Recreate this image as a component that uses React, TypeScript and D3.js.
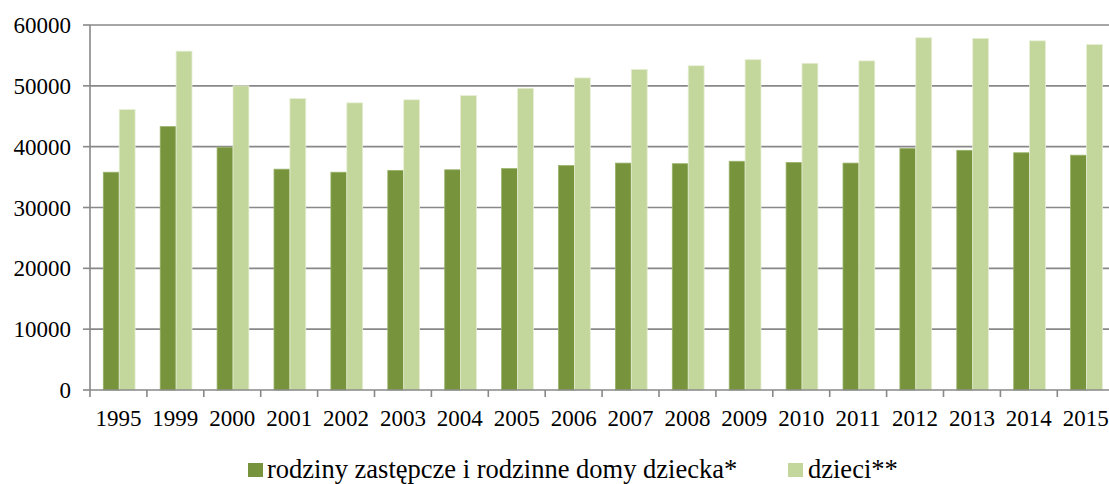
import React from "react";
import * as d3 from "d3";

const categories = ["1995","1999","2000","2001","2002","2003","2004","2005","2006","2007","2008","2009","2010","2011","2012","2013","2014","2015"];
const rodziny = [35800,43300,39900,36300,35800,36100,36200,36400,36900,37300,37200,37600,37400,37300,39700,39400,39000,38600];
const dzieci = [46100,55700,50000,47900,47200,47700,48400,49600,51300,52700,53300,54300,53700,54100,57900,57800,57400,56800];
const seriesNames = ["rodziny zastępcze i rodzinne domy dziecka*", "dzieci**"];
const yTicks = [0,10000,20000,30000,40000,50000,60000];

const W = 1109, H = 484;
const left = 90, bandW = 56.9;
const top = 25, bottom = 390;
const colors = ["#77933C", "#C3D69B"];
const font = "Liberation Serif, Times New Roman, Times, serif";

export default function App() {
  const x = d3.scaleBand<string>().domain(categories).range([left, left + bandW * categories.length]).padding(0);
  const y = d3.scaleLinear().domain([0, 60000]).range([bottom, top]);
  const inner = d3.scaleBand<string>().domain(["a", "b"]).range([13.3, 13.3 + 31.8]);
  const series = [rodziny, dzieci];
  const axisTxt: React.CSSProperties = { fontFamily: font, fontSize: 23 };
  const legTxt: React.CSSProperties = { fontFamily: font, fontSize: 26.5 };
  return (
    <svg width={W} height={H} style={{ position: "absolute", left: 0, top: 0, background: "#fff", fontFamily: font }}>
      {yTicks.map((t) => (
        <g key={t}>
          {t > 0 && <line x1={left} x2={W + 10} y1={y(t)} y2={y(t)} stroke="#888" strokeWidth={1.6} />}
          <line x1={left - 7} x2={left} y1={y(t)} y2={y(t)} stroke="#888" strokeWidth={1.6} />
          <text x={71} y={y(t) + 8} textAnchor="end" style={axisTxt} fill="#000">{t}</text>
        </g>
      ))}
      {series.map((vals, si) =>
        vals.map((v, i) => {
          const bx = (x(categories[i]) as number) + (inner(si === 0 ? "a" : "b") as number);
          return (
            <rect key={si + "-" + i} x={bx} y={y(v)} width={inner.bandwidth()} height={bottom - y(v)}
              fill={colors[si]} stroke={si === 0 ? "#9BB36A" : "#E6EED5"} strokeWidth={0.8} />
          );
        })
      )}
      <line x1={left} x2={left} y1={top} y2={bottom} stroke="#888" strokeWidth={1.6} />
      <line x1={left} x2={W + 10} y1={bottom} y2={bottom} stroke="#888" strokeWidth={1.6} />
      {categories.map((c) => (
        <line key={"t" + c} x1={(x(c) as number) + bandW} x2={(x(c) as number) + bandW} y1={bottom} y2={bottom + 7} stroke="#888" strokeWidth={1.6} />
      ))}
      <line x1={left} x2={left} y1={bottom} y2={bottom + 7} stroke="#888" strokeWidth={1.6} />
      {categories.map((c) => (
        <text key={"l" + c} x={(x(c) as number) + bandW / 2} y={426} textAnchor="middle" style={axisTxt} fill="#000">{c}</text>
      ))}
      <rect x={248} y={463} width={15} height={14} fill={colors[0]} />
      <text x={267} y={478} style={legTxt} fill="#000">{seriesNames[0]}</text>
      <rect x={788} y={463} width={15} height={14} fill={colors[1]} />
      <text x={808} y={478} style={legTxt} fill="#000">{seriesNames[1]}</text>
    </svg>
  );
}
